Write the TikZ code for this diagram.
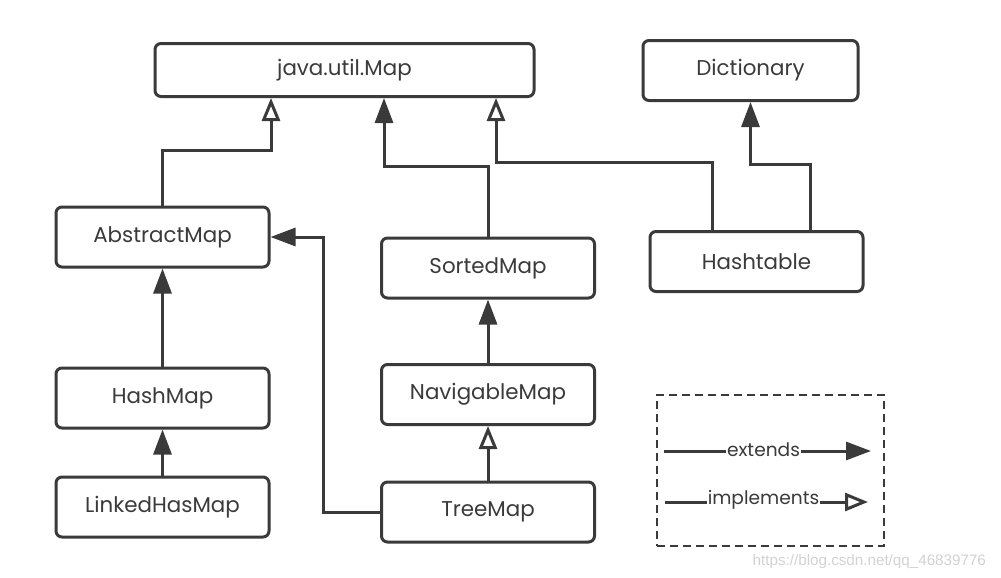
\documentclass[tikz,border=0pt]{standalone}
\usepackage{fontspec}
\setmainfont{Poppins}
\setsansfont{Liberation Sans}
\usetikzlibrary{arrows.meta,positioning}
\definecolor{ink}{HTML}{3A3A3A}
\definecolor{mark}{HTML}{D2D2D2}
\begin{document}
\begin{tikzpicture}[x=0.5pt, y=-0.5pt,
  cls/.style={draw=ink, line width=1.5pt, rounded corners=3pt, text=ink,
    minimum width=106.5pt, minimum height=30pt, inner sep=0pt,
    font=\fontsize{10.7}{12}\selectfont},
  ext/.style={draw=ink, line width=1.5pt, -{Triangle[length=12.5pt, width=9pt]}},
  impl/.style={draw=ink, line width=1.5pt, -{Triangle[open, length=11.5pt, width=9pt]}},
  lbl/.style={fill=white, inner sep=0.5pt, text=ink, font=\fontsize{9.3}{10}\selectfont}]
\useasboundingbox (0,0) rectangle (1001,578);
\node[cls, minimum width=189.5pt, minimum height=26.5pt] (map) at (344.5,70) {java.util.Map};
\node[cls, minimum width=107.5pt] (dict) at (750.5,70.5) {Dictionary};
\node[cls] (abs) at (162.5,237) {AbstractMap};
\node[cls] (sorted) at (488,268) {SortedMap};
\node[cls] (hasht) at (756.5,261.5) {Hashtable};
\node[cls] (hash) at (162.5,398) {HashMap};
\node[cls] (nav) at (488,394.5) {NavigableMap};
\node[cls] (linked) at (162.5,507) {LinkedHasMap};
\node[cls] (tree) at (488,512) {TreeMap};
\draw[impl] (abs.north) -- ++(0,-55) -| ([xshift=-36.75pt]map.south);
\draw[ext] (sorted.north) -- ++(0,-70) -| ([xshift=19.75pt]map.south);
\draw[impl] ([xshift=-22.25pt]hasht.north) -- ++(0,-68) -| ([xshift=75.75pt]map.south);
\draw[ext] ([xshift=26.75pt]hasht.north) -- ++(0,-66) -| (dict.south);
\draw[ext] (hash) -- (abs);
\draw[ext] (linked) -- (hash);
\draw[ext] (nav) -- (sorted);
\draw[impl] (tree) -- (nav);
\draw[ext] (tree.west) -- ++(-57,0) |- (abs.east);
\node[draw=ink, line width=1pt, dash pattern=on 4pt off 2.5pt,
  minimum width=113.5pt, minimum height=75.5pt] (key) at (770.5,470.5) {};
\coordinate (e1) at ([xshift=4pt, yshift=-28.5pt]key.north west);
\coordinate (e2) at ([xshift=-7pt, yshift=-28.5pt]key.north east);
\coordinate (i1) at ([xshift=4.5pt, yshift=-54pt]key.north west);
\coordinate (i2) at ([xshift=-8.5pt, yshift=-54pt]key.north east);
\draw[ext] (e1) -- node[lbl, xshift=-2pt, yshift=0.5pt] {extends} (e2);
\draw[impl] (i1) -- node[lbl, xshift=-1.5pt, yshift=1pt] {implements} (i2);
\node[text=mark, anchor=base east, font=\sffamily\fontsize{7.6}{9}\selectfont]
  (url) at (993,565) {https://blog.csdn.net/qq\_46839776};
\end{tikzpicture}
\end{document}
